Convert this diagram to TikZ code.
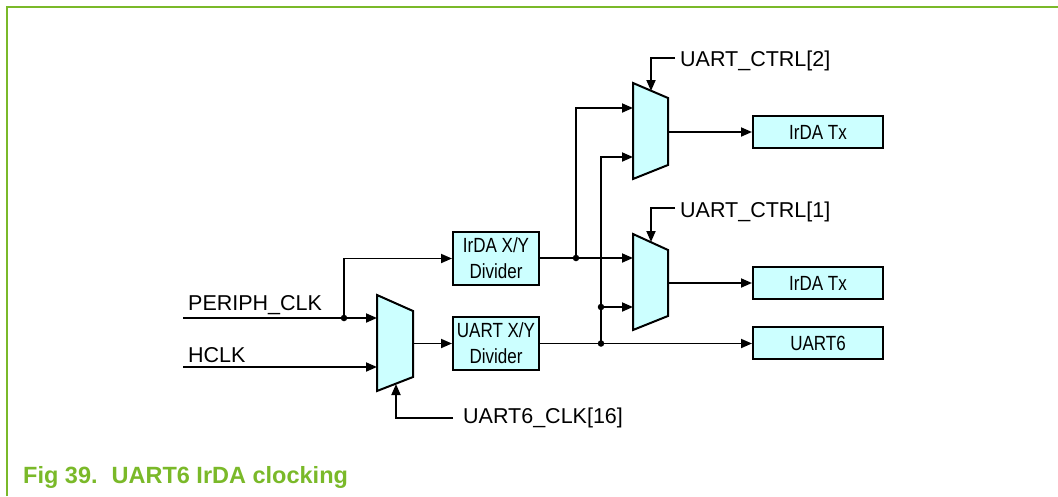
\documentclass[tikz,border=0pt]{standalone}
\usepackage{fontspec}
\setmainfont{Liberation Sans}
\newfontfamily\narrowfont[FakeStretch=0.83]{Liberation Sans}
\usetikzlibrary{arrows.meta}
\definecolor{nxpgreen}{HTML}{7AB929}
\definecolor{boxcyan}{HTML}{CCFFFF}
\begin{document}
\begin{tikzpicture}[x=1pt,y=-1pt,
  wire/.style={line width=1.8pt},
  arr/.style={wire,-{Triangle[length=11pt,width=9pt]}},
  blk/.style={draw,line width=2pt,fill=boxcyan,minimum width=130pt,minimum height=32pt,inner sep=0pt,font=\narrowfont\fontsize{20.5}{24}\selectfont},
  divbox/.style={draw,line width=2pt,fill=boxcyan,minimum width=86pt,minimum height=53pt,inner sep=0pt,align=center,font=\narrowfont\fontsize{20.5}{26}\selectfont},
  muxs/.style={draw,line width=2pt,fill=boxcyan,line join=miter},
  lbl/.style={anchor=base west,inner sep=0pt,font=\fontsize{21.5}{24}\selectfont},
  dot/.style={circle,fill,inner sep=0pt,minimum size=6.5pt}]
\useasboundingbox (0,0) rectangle (1058,496);
\draw[nxpgreen,line width=2pt] (7,496) -- (7,7) -- (1058,7);

% blocks
\node[divbox] (irdiv) at (496,258.5) {IrDA X/Y\\Divider};
\node[divbox] (uadiv) at (496,343.5) {UART X/Y\\Divider};
\node[blk] (tx1) at (818,132) {IrDA Tx};
\node[blk] (tx2) at (818,283) {IrDA Tx};
\node[blk] (u6) at (818,343) {UART6};

% muxes
\draw[muxs] (377,295) -- (413,311) -- (413,377) -- (377,391) -- cycle;
\draw[muxs] (633,83) -- (668,98) -- (668,165) -- (633,179) -- cycle;
\draw[muxs] (633,234) -- (668,250) -- (668,316) -- (633,330) -- cycle;

% mux pins
\coordinate (m1a) at (377,318);
\coordinate (m1b) at (377,367);
\coordinate (m1o) at (413,343.5);
\coordinate (m1s) at (396,384);
\coordinate (m2a) at (633,108);
\coordinate (m2b) at (633,157);
\coordinate (m2o) at (668,132);
\coordinate (m2s) at (651,91);
\coordinate (m3a) at (633,258);
\coordinate (m3b) at (633,307);
\coordinate (m3o) at (668,283);
\coordinate (m3s) at (651,242);

% inputs
\coordinate (pin) at (183,318);
\coordinate (hin) at (183,367);
\node[dot] (d1) at (344,318) {};
\node[lbl] (lp) at (188,310) {PERIPH\_CLK};
\node[lbl] (lh) at (188,362) {HCLK};
\draw[arr] (pin) -- (m1a);
\draw[arr] (hin) -- (m1b);
\draw[arr] (d1.center) |- (irdiv.west);
\draw[arr] (m1o) -- (uadiv.west);

% select of mux 1
\coordinate (s1) at (453,418);
\node[lbl] (l16) at (463,423) {UART6\_CLK[16]};
\draw[arr] (s1) -| (m1s);

% irda divider output
\node[dot] (d2) at (576,258) {};
\draw[wire] (irdiv.east |- d2) -- (d2.center);
\draw[arr] (d2.center) -- (m3a);
\draw[arr] (d2.center) |- (m2a);

% uart divider output
\node[dot] (d3) at (601,343.5) {};
\node[dot] (d4) at (601,307) {};
\draw[arr] (uadiv.east) -- (u6.west |- uadiv.east);
\draw[arr] (d3.center) |- (m2b);
\draw[arr] (d4.center) -- (m3b);

% mux outputs
\draw[arr] (m2o) -- (tx1.west);
\draw[arr] (m3o) -- (tx2.west);

% selects of mux 2 and 3
\coordinate (s2) at (675,58);
\coordinate (s3) at (675,208);
\node[lbl] (lc2) at (680,66) {UART\_CTRL[2]};
\node[lbl] (lc1) at (680,217) {UART\_CTRL[1]};
\draw[arr] (s2) -| (m2s);
\draw[arr] (s3) -| (m3s);

% caption
\node[anchor=base west,inner sep=0pt,text=nxpgreen,font=\bfseries\fontsize{23.5}{26}\selectfont] (cap) at (23,483) {Fig 39.\hspace{14pt}UART6 IrDA clocking};
\end{tikzpicture}
\end{document}
